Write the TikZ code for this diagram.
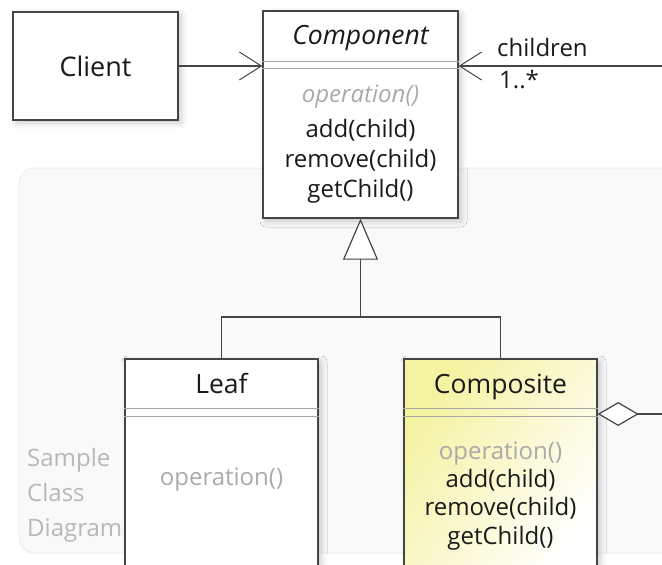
\documentclass[tikz,border=0pt]{standalone}
\usepackage{fontspec}
\setmainfont{Open Sans}
\usetikzlibrary{arrows.meta,shadows.blur}

\definecolor{edge}{HTML}{454545}
\definecolor{sepline}{HTML}{A6A6A6}
\definecolor{ink}{HTML}{1A1A1A}
\definecolor{muted}{HTML}{AAAAAA}
\definecolor{captiongray}{HTML}{B8B8B8}
\definecolor{compyellow}{HTML}{F5F2A0}
\definecolor{compmid}{HTML}{FEFEF1}
\definecolor{framefill}{HTML}{F9F9F9}
\definecolor{frameedge}{HTML}{EEEEEE}

\tikzset{
  classbox/.style={draw=edge, line width=1.4pt, fill=white, inner sep=0pt,
    blur shadow={shadow xshift=3pt, shadow yshift=-3pt,
                 shadow blur radius=6pt, shadow opacity=22}},
  compline/.style={draw=sepline, line width=0.9pt},
  titletext/.style={font=\fontsize{26.5}{32}\selectfont, text=ink,
    anchor=base, inner sep=0pt},
  membertext/.style={font=\fontsize{24}{29}\selectfont, text=ink,
    anchor=base, inner sep=0pt},
  abstractop/.style={membertext, text=muted,
    font=\fontsize{24}{29}\selectfont\itshape},
  inheritedop/.style={membertext, text=muted},
  captiontext/.style={font=\fontsize{24}{29}\selectfont, text=captiongray,
    anchor=base west, inner sep=0pt},
  wire/.style={draw=edge, line width=1.4pt},
  navarrow/.style={wire, -{Straight Barb[length=22pt,width=28pt,line width=1pt]}},
  genarrow/.style={wire, -{Triangle[fill=white,length=41pt,width=35pt,line width=1.2pt]}},
  aggarrow/.style={wire, -{Diamond[fill=white,length=41pt,width=24pt,line width=1.2pt]}},
}

\begin{document}
\begin{tikzpicture}[x=1pt,y=-1pt]
  \useasboundingbox (0,0) rectangle (662,565);
  \clip (0,0) rectangle (662,565);

  % diagram frame and its caption
  \draw[fill=framefill, draw=frameedge, line width=1pt, rounded corners=16pt]
    (19,168) rectangle (720,553);
  \node[captiontext] (captionA) at (27,466) {Sample};
  \node[captiontext] (captionB) at (27,501) {Class};
  \node[captiontext] (captionC) at (27,536) {Diagram};

  % Client
  \node[classbox, minimum width=165pt, minimum height=108pt,
        font=\fontsize{27}{32}\selectfont, text=ink] (client) at (95.5,66) {Client};

  % Component (abstract)
  \node[classbox, minimum width=195pt, minimum height=207pt] (component) at (360.5,114.5) {};
  \draw[compline] ([yshift=-51pt]component.north west) -- ([yshift=-51pt]component.north east);
  \draw[compline] ([yshift=-58pt]component.north west) -- ([yshift=-58pt]component.north east);
  \node[titletext, font=\fontsize{26.5}{32}\selectfont\itshape] (componentname) at (360.5,44) {Component};
  \node[abstractop] (componentop) at (360.5,102) {operation()};
  \node[membertext] (componentadd) at (360.5,137) {add(child)};
  \node[membertext] (componentremove) at (360.5,167) {remove(child)};
  \node[membertext] (componentget) at (360.5,197) {getChild()};

  % Leaf
  \node[classbox, minimum width=193pt, minimum height=221pt] (leaf) at (221.5,469.5) {};
  \draw[compline] ([yshift=-50pt]leaf.north west) -- ([yshift=-50pt]leaf.north east);
  \draw[compline] ([yshift=-58pt]leaf.north west) -- ([yshift=-58pt]leaf.north east);
  \node[titletext] (leafname) at (221.5,393.5) {Leaf};
  \node[inheritedop] (leafop) at (221.5,485) {operation()};

  % Composite, tinted from its top left corner
  \node[classbox, minimum width=193pt, minimum height=221pt,
        shading=axis, top color=compyellow, middle color=compmid,
        bottom color=white, shading angle=55] (composite) at (500.5,469.5) {};
  \draw[compline] ([yshift=-50pt]composite.north west) -- ([yshift=-50pt]composite.north east);
  \draw[compline] ([yshift=-58pt]composite.north west) -- ([yshift=-58pt]composite.north east);
  \node[titletext] (compositename) at (500.5,393.5) {Composite};
  \node[inheritedop] (compositeop) at (500.5,459) {operation()};
  \node[membertext] (compositeadd) at (500.5,487) {add(child)};
  \node[membertext] (compositeremove) at (500.5,515.5) {remove(child)};
  \node[membertext] (compositeget) at (500.5,544) {getChild()};

  % Client uses Component
  \draw[navarrow] (client.east) -- (component.west |- client.east);

  % children association
  \coordinate (childrenend) at (668,66);
  \draw[navarrow] (childrenend) -- (component.east |- childrenend);
  \node[membertext, anchor=base west] (childrenrole) at (497,56) {children};
  \node[membertext, anchor=base west] (childrenmult) at (499,88) {1..*};

  % generalization
  \coordinate (busrow) at (0,317);
  \coordinate (bus) at (component.south |- busrow);
  \draw[wire] (leaf.north) |- (bus) -| (composite.north);
  \draw[genarrow] (bus) -- (component.south);

  % aggregation
  \coordinate (aggend) at (668,414);
  \draw[aggarrow] (aggend) -- (composite.east |- aggend);
\end{tikzpicture}
\end{document}
